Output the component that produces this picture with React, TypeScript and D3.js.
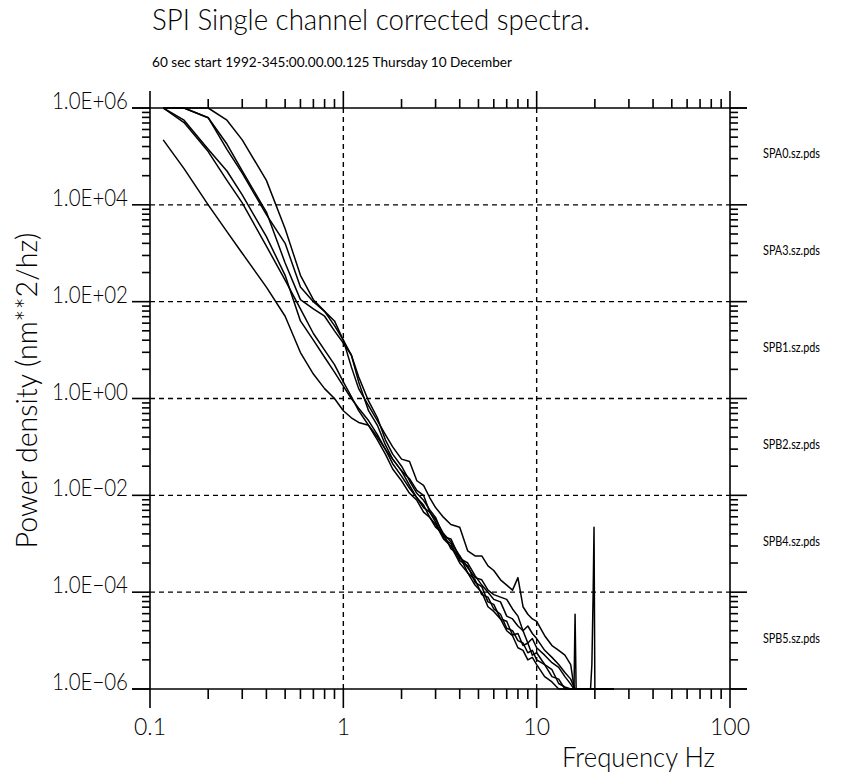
import React from 'react';
import * as d3 from 'd3';

// frequency grid (Hz) shared by every channel
const freqs = [
  0.117, 0.15, 0.2, 0.25, 0.3, 0.4, 0.5, 0.6, 0.7, 0.8,
  0.9, 1.0, 1.1, 1.2, 1.35, 1.5, 1.65, 1.8, 2.0, 2.2,
  2.4, 2.6, 2.8, 3.0, 3.3, 3.6, 4.0, 4.4, 4.8, 5.2,
  5.6, 6.0, 6.5, 7.0, 7.5, 8.0, 8.5, 9.0, 9.5, 10,
  11, 12, 13, 14, 15, 15.6, 15.8, 16.0, 17, 18,
  19, 19.3, 19.6, 19.8, 20.0, 25,
];

// power density (nm**2/hz)
const spa0 = [
  2.2e5, 5.6e4, 1.0e4, 2.8e3, 1.0e3, 2.0e2, 50, 8.9, 3.2, 1.6,
  1.0, 0.56, 0.4, 0.32, 0.28, 0.14, 0.071, 0.035, 0.02, 0.011,
  7.9e-3, 4.5e-3, 3.5e-3, 2.2e-3, 1.6e-3, 7.9e-4, 5.6e-4, 2.5e-4, 1.8e-4, 8.9e-5,
  7.9e-5, 4.5e-5, 3.5e-5, 1.8e-5, 1.6e-5, 1.0e-5, 8.9e-6, 5.6e-6, 6.3e-6, 4.0e-6,
  3.2e-6, 1.8e-6, 1.6e-6, 7.9e-7, 5e-7, 3e-7, 3e-7, 3e-7, 3e-7, 3e-7,
  3e-7, 3e-7, 3e-7, 3e-7, 3e-7, 3e-7,
];
const spa3 = [
  1.0e6, 5.6e5, 1.4e5, 5.0e4, 1.6e4, 2.2e3, 3.5e2, 40, 16, 7.1,
  3.5, 1.8, 1.0, 0.63, 0.35, 0.18, 0.089, 0.045, 0.025, 0.014,
  8.9e-3, 5.6e-3, 4.5e-3, 2.8e-3, 1.3e-3, 1.0e-3, 4.5e-4, 3.5e-4, 1.6e-4, 1.3e-4,
  6.3e-5, 5.6e-5, 2.8e-5, 2.5e-5, 1.3e-5, 1.4e-5, 7.9e-6, 8.9e-6, 5.0e-6, 5.6e-6,
  3.2e-6, 2.5e-6, 1.3e-6, 1.1e-6, 7.9e-7, 3e-7, 3.5e-5, 3e-7, 3e-7, 3e-7,
  3e-7, 3e-7, 3e-7, 3e-7, 3e-7, 3e-7,
];
const spb1 = [
  1.0e6, 5.0e5, 1.26e5, 3.2e4, 1.1e4, 1.4e3, 2.8e2, 71, 22, 10,
  5.0, 2.2, 1.1, 0.56, 0.28, 0.16, 0.089, 0.056, 0.032, 0.022,
  0.0126, 0.01, 4.5e-3, 3.2e-3, 1.6e-3, 1.1e-3, 5.6e-4, 3.2e-4, 2.0e-4, 1.8e-4,
  1.1e-4, 8.9e-5, 7.9e-5, 7.1e-5, 4.5e-5, 3.2e-5, 1.6e-5, 2.0e-5, 1.4e-5, 1.1e-5,
  6.3e-6, 4.5e-6, 3.2e-6, 2.2e-6, 1.6e-6, 1.1e-6, 8.9e-7, 6e-7, 3e-7, 3e-7,
  3e-7, 3e-7, 3e-7, 3e-7, 3e-7, 3e-7,
];
const spb2 = [
  2.0e6, 1.1e6, 6.3e5, 1.8e5, 5.0e4, 7.1e3, 6.3e2, 1.1e2, 71, 50,
  25, 14, 7.9, 2.2, 0.56, 0.28, 0.11, 0.056, 0.032, 0.016,
  8.9e-3, 6.3e-3, 3.5e-3, 2.5e-3, 1.26e-3, 8.9e-4, 4.0e-4, 2.5e-4, 1.4e-4, 1.0e-4,
  5.0e-5, 4.0e-5, 2.8e-5, 1.6e-5, 1.26e-5, 7.1e-6, 6.3e-6, 4.0e-6, 4.5e-6, 3.2e-6,
  1.8e-6, 1.4e-6, 8.9e-7, 3e-7, 3e-7, 3e-7, 3e-7, 3e-7, 3e-7, 3e-7,
  3e-7, 3e-7, 3e-7, 3e-7, 3e-7, 3e-7,
];
const spb4 = [
  3.2e6, 1.4e6, 6.3e5, 1.4e5, 4.5e4, 6.3e3, 1.6e3, 2.0e2, 1.0e2, 63,
  40, 16, 4.5, 1.6, 0.71, 0.35, 0.18, 0.1, 0.056, 0.05,
  0.02, 0.016, 8.9e-3, 5.6e-3, 3.5e-3, 2.5e-3, 2.2e-3, 7.1e-4, 5.6e-4, 5.6e-4,
  3.5e-4, 2.8e-4, 1.8e-4, 1.4e-4, 1.1e-4, 2.0e-4, 5.0e-5, 3.5e-5, 2.8e-5, 2.5e-5,
  1.26e-5, 7.9e-6, 6.3e-6, 5.0e-6, 3.2e-6, 1.1e-6, 3e-7, 3e-7, 3e-7, 3e-7,
  3e-7, 3.2e-6, 1.0e-4, 2.2e-3, 3e-7, 3e-7,
];
const spb5 = [
  6.3e6, 2.0e6, 1.0e6, 5.6e5, 2.2e5, 3.2e4, 3.2e3, 3.5e2, 1.1e2, 63,
  32, 16, 7.9, 2.8, 0.89, 0.4, 0.14, 0.071, 0.04, 0.02,
  0.011, 7.9e-3, 5.0e-3, 3.5e-3, 1.4e-3, 1.26e-3, 5.0e-4, 4.0e-4, 2.2e-4, 1.4e-4,
  1.0e-4, 7.1e-5, 6.3e-5, 3.2e-5, 2.8e-5, 2.0e-5, 1.6e-5, 8.9e-6, 1.1e-5, 7.1e-6,
  5.0e-6, 3.5e-6, 2.8e-6, 1.8e-6, 1.26e-6, 1.0e-6, 8e-7, 5e-7, 3e-7, 3e-7,
  3e-7, 3e-7, 3e-7, 3e-7, 3e-7, 3e-7,
];

const channelNames = ['SPA0.sz.pds', 'SPA3.sz.pds', 'SPB1.sz.pds', 'SPB2.sz.pds', 'SPB4.sz.pds', 'SPB5.sz.pds'];
const channelValues = [spa0, spa3, spb1, spb2, spb4, spb5];

const xMajor = [0.1, 1, 10, 100];
const xTickLabels = ['0.1', '1', '10', '100'];
const yMajorExp = [6, 4, 2, 0, -2, -4, -6];
const yTickLabels = ['1.0E+06', '1.0E+04', '1.0E+02', '1.0E+00', '1.0E\u221202', '1.0E\u221204', '1.0E\u221206'];
const legendExp = [5, 3, 1, -1, -3, -5];

const W = 843;
const H = 781;
const FONT = 'Lato, "DejaVu Sans Condensed", sans-serif';

export default function App() {
  const x = d3.scaleLog().domain([0.1, 100]).range([150, 730]);
  const y = d3.scaleLog().domain([1e-6, 1e6]).range([689, 108]).clamp(true);

  const [x0, x1] = x.range();
  const [y0, y1] = y.range(); // bottom, top

  const line = d3.line<{ f: number; p: number }>()
    .x(d => x(d.f))
    .y(d => y(d.p));

  const series = channelValues.map(vals =>
    freqs.slice(0, vals.length).map((f, i) => ({ f, p: vals[i] }))
  );

  // x minor ticks: 2..9 within each decade
  const xMinor: number[] = [];
  for (let e = -1; e <= 1; e++) {
    for (let k = 2; k <= 9; k++) xMinor.push(k * Math.pow(10, e));
  }
  // y labelled every two decades, so minor ticks sit at k^2 steps
  const yMinor: number[] = [];
  for (let e = -6; e < 6; e += 2) {
    for (let k = 2; k <= 9; k++) yMinor.push(Math.pow(10, e) * k * k);
  }

  const sw = 1.6;

  return (
    <svg width={W} height={H} style={{ position: 'absolute', left: 0, top: 0, background: '#fff' }}
      fontFamily={FONT} fontWeight={300}>
      <rect width={W} height={H} fill="#fff" />

      {/* titles */}
      <text x={152} y={30} fontSize={30} textLength={438} lengthAdjust="spacingAndGlyphs">
        SPI Single channel corrected spectra.
      </text>
      <text x={152} y={67} fontSize={14} fontWeight={400} textLength={360} lengthAdjust="spacingAndGlyphs">
        60 sec start 1992-345:00.00.00.125 Thursday 10 December
      </text>

      {/* grid */}
      <g stroke="#000" strokeWidth={1.4} strokeDasharray="5,4" fill="none">
        {xMajor.slice(1, -1).map(v => (
          <line key={'gx' + v} x1={x(v)} x2={x(v)} y1={y1} y2={y0} />
        ))}
        {yMajorExp.slice(1, -1).map(e => (
          <line key={'gy' + e} x1={x0} x2={x1} y1={y(Math.pow(10, e))} y2={y(Math.pow(10, e))} />
        ))}
      </g>

      {/* data */}
      <g fill="none" stroke="#000" strokeWidth={1.5} strokeLinejoin="round">
        {series.map((s, i) => (
          <path key={channelNames[i]} d={line(s) || ''} />
        ))}
      </g>

      {/* frame */}
      <g stroke="#000" strokeWidth={sw} fill="none">
        <line x1={x0 - 18} x2={x1 + 17} y1={y1} y2={y1} />
        <line x1={x0 - 18} x2={x1 + 17} y1={y0} y2={y0} />
        <line x1={x0} x2={x0} y1={y1} y2={y0} />
        <line x1={x1} x2={x1} y1={y1} y2={y0} />
        {xMajor.map(v => (
          <g key={'xM' + v}>
            <line x1={x(v)} x2={x(v)} y1={y0} y2={y0 + 19} />
            <line x1={x(v)} x2={x(v)} y1={y1} y2={y1 - 17} />
          </g>
        ))}
        {xMinor.map(v => (
          <g key={'xm' + v}>
            <line x1={x(v)} x2={x(v)} y1={y0} y2={y0 + 10} />
            <line x1={x(v)} x2={x(v)} y1={y1} y2={y1 - 9} />
          </g>
        ))}
        {yMajorExp.map(e => (
          <g key={'yM' + e}>
            <line x1={x0 - 18} x2={x0} y1={y(Math.pow(10, e))} y2={y(Math.pow(10, e))} />
            <line x1={x1} x2={x1 + 17} y1={y(Math.pow(10, e))} y2={y(Math.pow(10, e))} />
          </g>
        ))}
        {yMinor.map(v => (
          <g key={'ym' + v}>
            <line x1={x0 - 8} x2={x0} y1={y(v)} y2={y(v)} />
            <line x1={x1} x2={x1 + 8} y1={y(v)} y2={y(v)} />
          </g>
        ))}
      </g>

      {/* tick labels */}
      <g fontSize={23} fill="#000">
        {xMajor.map((v, i) => (
          <text key={'xl' + v} x={x(v)} y={735} textAnchor="middle">{xTickLabels[i]}</text>
        ))}
        {yMajorExp.map((e, i) => (
          <text key={'yl' + e} x={52} y={y(Math.pow(10, e)) + 1} textLength={76}
            lengthAdjust="spacingAndGlyphs">{yTickLabels[i]}</text>
        ))}
      </g>

      {/* axis titles */}
      <text x={562} y={767} fontSize={28} textLength={153} lengthAdjust="spacingAndGlyphs">Frequency Hz</text>
      <text transform={`translate(37,${(y0 + y1) / 2 - 8}) rotate(-90)`} textAnchor="middle" fontSize={30}
        textLength={316} lengthAdjust="spacingAndGlyphs">
        Power density (nm**2/hz)
      </text>

      {/* channel labels */}
      <g fontSize={13} fontWeight={400} fill="#000">
        {channelNames.map((n, i) => (
          <text key={n} x={763} y={y(Math.pow(10, legendExp[i])) + 2} textLength={57}
            lengthAdjust="spacingAndGlyphs">{n}</text>
        ))}
      </g>
    </svg>
  );
}
